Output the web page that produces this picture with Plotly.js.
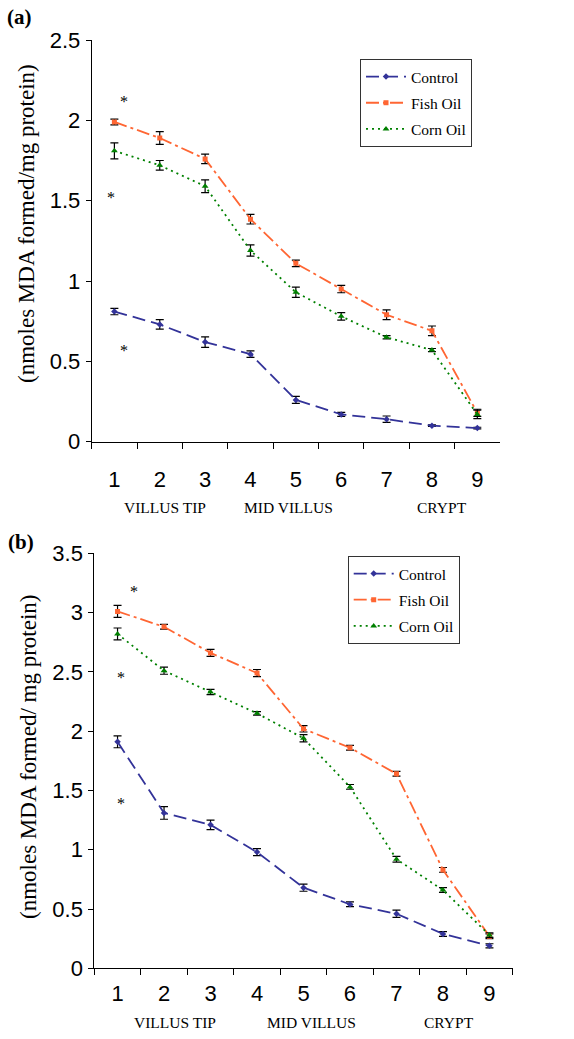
<!DOCTYPE html>
<html>
<head>
<meta charset="utf-8">
<script src="https://cdn.plot.ly/plotly-3.0.1.min.js"></script>
<style>
  html, body { margin: 0; padding: 0; background: #fff; }
  #chart { width: 574px; height: 1039px; }
</style>
</head>
<body>
<div id="chart"></div>
<script>
// ---------- data ----------
const categories = ['1', '2', '3', '4', '5', '6', '7', '8', '9'];
const zoneLabels = ['VILLUS TIP', 'MID VILLUS', 'CRYPT'];
const seriesNames = ['Control', 'Fish Oil', 'Corn Oil'];
const yTitleA = '(nmoles MDA formed/mg protein)';
const yTitleB = '(nmoles MDA formed/ mg protein)';

const aControl    = [0.81, 0.73, 0.62, 0.545, 0.26, 0.17, 0.14, 0.10, 0.085];
const aControlErr = [0.02, 0.03, 0.033, 0.02, 0.022, 0.012, 0.02, 0.005, 0.005];
const aFish       = [1.99, 1.89, 1.76, 1.385, 1.11, 0.95, 0.79, 0.69, 0.18];
const aFishErr    = [0.018, 0.04, 0.03, 0.03, 0.02, 0.023, 0.03, 0.03, 0.022];
const aCorn       = [1.81, 1.72, 1.59, 1.19, 0.93, 0.78, 0.65, 0.57, 0.17];
const aCornErr    = [0.05, 0.03, 0.04, 0.035, 0.032, 0.023, 0.01, 0.01, 0.026];

const bControl    = [1.91, 1.31, 1.21, 0.98, 0.68, 0.54, 0.46, 0.29, 0.19];
const bControlErr = [0.05, 0.053, 0.04, 0.03, 0.03, 0.02, 0.03, 0.02, 0.017];
const bFish       = [3.01, 2.88, 2.66, 2.49, 2.02, 1.86, 1.64, 0.83, 0.27];
const bFishErr    = [0.05, 0.02, 0.03, 0.03, 0.027, 0.02, 0.02, 0.02, 0.02];
const bCorn       = [2.82, 2.51, 2.33, 2.15, 1.94, 1.53, 0.92, 0.66, 0.28];
const bCornErr    = [0.05, 0.03, 0.022, 0.015, 0.03, 0.02, 0.024, 0.02, 0.02];

// ---------- styles ----------
const styles = [
  { color: '#333399', dash: '13px,6px', symbol: 'diamond', size: 5 },
  { color: '#FF6633', dash: '13px,4px,3px,4px', symbol: 'square', size: 5 },
  { color: '#008000', dash: '2px,4px', symbol: 'triangle-up', size: 6 }
];

function mk(vals, errs, i, xa, ya, legend) {
  const s = styles[i];
  return {
    type: 'scatter', mode: 'lines+markers',
    x: categories, y: vals, xaxis: xa, yaxis: ya,
    name: seriesNames[i], legend: legend, legendgroup: legend + i,
    line: { color: s.color, width: 1.8, dash: s.dash },
    marker: { color: s.color, symbol: s.symbol, size: s.size },
    error_y: { type: 'data', array: errs, visible: true, color: '#000', thickness: 1.2, width: 4 }
  };
}

const traces = [
  mk(aControl, aControlErr, 0, 'x', 'y', 'legend'),
  mk(aFish, aFishErr, 1, 'x', 'y', 'legend'),
  mk(aCorn, aCornErr, 2, 'x', 'y', 'legend'),
  mk(bControl, bControlErr, 0, 'x2', 'y2', 'legend2'),
  mk(bFish, bFishErr, 1, 'x2', 'y2', 'legend2'),
  mk(bCorn, bCornErr, 2, 'x2', 'y2', 'legend2')
];

const sans = 'Liberation Sans, Arial, sans-serif';
const serif = 'Liberation Serif, Times New Roman, serif';

function xax(domain, anchor, standoff) {
  return {
    domain: domain, anchor: anchor, type: 'category', range: [-0.5, 8.5],
    tickson: 'boundaries', ticks: 'outside', ticklen: 6, tickcolor: '#000', tickwidth: 1,
    showline: true, linecolor: '#000', linewidth: 1, showgrid: false, zeroline: false,
    tickfont: { family: sans, size: 22, color: '#000' }, ticklabelstandoff: standoff,
    fixedrange: true
  };
}
function yax(domain, anchor, range, dtick) {
  return {
    domain: domain, anchor: anchor, range: range, dtick: dtick,
    ticks: 'outside', ticklen: 5, tickcolor: '#000', tickwidth: 1,
    showline: true, linecolor: '#000', linewidth: 1, showgrid: false, zeroline: false,
    tickfont: { family: sans, size: 22, color: '#000' }, ticklabelstandoff: 1,
    fixedrange: true
  };
}

const legendBase = {
  bgcolor: '#fff', bordercolor: '#333', borderwidth: 1,
  font: { family: serif, size: 15.5, color: '#000' },
  xanchor: 'left', yanchor: 'top', traceorder: 'grouped', tracegroupgap: 3,
  itemwidth: 40
};

const annotations = [
  // panel labels
  { text: '<b>(a)</b>', xref: 'paper', yref: 'paper', x: 19 / 574, y: 1 - 17 / 1039, xanchor: 'center', yanchor: 'middle',
    showarrow: false, font: { family: serif, size: 21, color: '#000' } },
  { text: '<b>(b)</b>', xref: 'paper', yref: 'paper', x: 21 / 574, y: 1 - 542 / 1039, xanchor: 'center', yanchor: 'middle',
    showarrow: false, font: { family: serif, size: 21, color: '#000' } },
  // y titles
  { text: yTitleA, xref: 'paper', yref: 'paper', x: 26 / 574, y: 1 - 224 / 1039, xanchor: 'center', yanchor: 'middle',
    textangle: -90, showarrow: false, font: { family: serif, size: 23, color: '#000' } },
  { text: yTitleB, xref: 'paper', yref: 'paper', x: 28 / 574, y: 1 - 757 / 1039, xanchor: 'center', yanchor: 'middle',
    textangle: -90, showarrow: false, font: { family: serif, size: 23, color: '#000' } }
];
// zone labels under each x axis
const zoneA = [1.11, 3.84, 7.22];
const zoneB = [1.24, 4.18, 7.12];
zoneLabels.forEach((t, k) => {
  annotations.push({ text: t, xref: 'x', yref: 'paper', x: zoneA[k], y: 1 - 507 / 1039, xanchor: 'center', yanchor: 'middle',
    showarrow: false, font: { family: serif, size: 15.5, color: '#000' } });
  annotations.push({ text: t, xref: 'x2', yref: 'paper', x: zoneB[k], y: 1 - 1022 / 1039, xanchor: 'center', yanchor: 'middle',
    showarrow: false, font: { family: serif, size: 15.5, color: '#000' } });
});
// significance asterisks
const stars = [
  ['x', 'y', 0.21, 2.12], ['x', 'y', -0.08, 1.52], ['x', 'y', 0.21, 0.57],
  ['x2', 'y2', 0.36, 3.18], ['x2', 'y2', 0.07, 2.45], ['x2', 'y2', 0.07, 1.39]
];
stars.forEach(s => annotations.push({
  text: '*', xref: s[0], yref: s[1], x: s[2], y: s[3], xanchor: 'center', yanchor: 'middle', showarrow: false,
  font: { family: serif, size: 16, color: '#000' }
}));

const layout = {
  width: 574, height: 1039,
  margin: { l: 0, r: 0, t: 0, b: 0 },
  paper_bgcolor: '#fff', plot_bgcolor: '#fff',
  xaxis: xax([91.7 / 574, 500 / 574], 'y', 18),
  yaxis: yax([1 - 441.7 / 1039, 1 - 40 / 1039], 'x', [0, 2.5], 0.5),
  xaxis2: xax([94.3 / 574, 512.7 / 574], 'y2', 5),
  yaxis2: yax([1 - 968.3 / 1039, 1 - 553.3 / 1039], 'x2', [0, 3.5], 0.5),
  legend: Object.assign({}, legendBase, { x: 360 / 574, y: 1 - 59 / 1039 }),
  legend2: Object.assign({}, legendBase, { x: 347.7 / 574, y: 1 - 556 / 1039 }),
  annotations: annotations,
  showlegend: true
};

Plotly.newPlot('chart', traces, layout, { displayModeBar: false, staticPlot: true });
</script>
</body>
</html>
